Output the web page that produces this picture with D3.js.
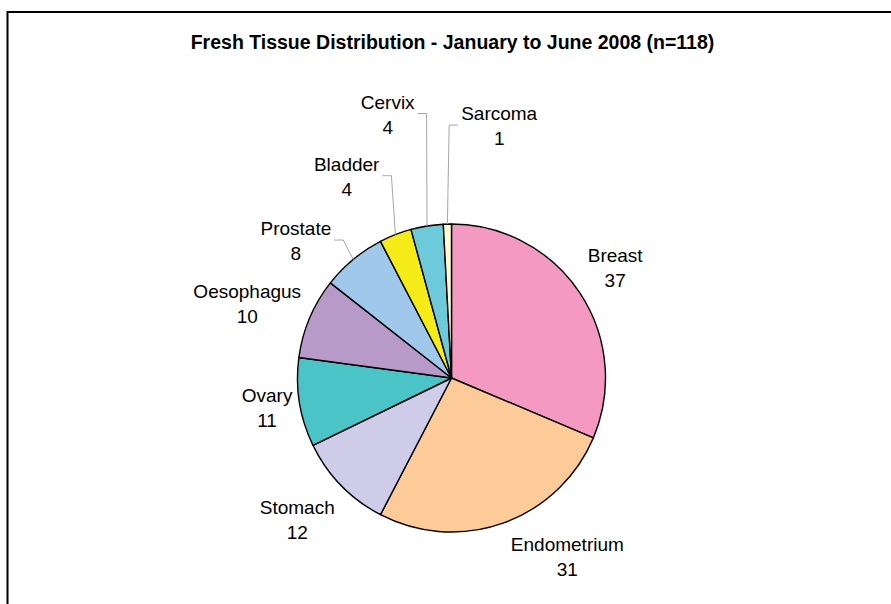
<!DOCTYPE html>
<html>
<head>
<meta charset="utf-8">
<script src="https://cdn.jsdelivr.net/npm/d3@7"></script>
<style>
  body { margin: 0; background: #fff; }
  svg { display: block; }
</style>
</head>
<body>
<div class="piechart"></div>
<script>
var categories = ["Breast", "Endometrium", "Stomach", "Ovary", "Oesophagus", "Prostate", "Bladder", "Cervix", "Sarcoma"];
var counts = [37, 31, 12, 11, 10, 8, 4, 4, 1];
var sliceColors = ["#F49AC2", "#FDCB98", "#CECCE8", "#4AC4C7", "#B89AC8", "#A0C8EA", "#F5EB19", "#6CCADB", "#FFFAD2"];
var chartTitle = "Fresh Tissue Distribution - January to June 2008 (n=118)";

// manual label moves (like excel's dragged labels), and which ones get a leader line
var labelNudge = [[-3, -5], [48, -15], [-11, -4], [13, -8], [-20, -2], [-28, 11], [-32, -21], [-32, -72], [53, -58]];
var hasLeader = [false, false, false, false, false, true, true, true, true];

var width = 891,
    height = 604;
var cx = 451.5, cy = 378,
    radius = 154,
    labelRadius = 200,
    lineGap = 25;

var svg = d3.select(".piechart").append("svg")
    .attr("width", width)
    .attr("height", height);

// chart frame, runs off the right and bottom edge
svg.append("rect")
    .attr("x", 7.5)
    .attr("y", 12)
    .attr("width", 1000)
    .attr("height", 1000)
    .attr("fill", "none")
    .attr("stroke", "#000")
    .attr("stroke-width", 2);

svg.append("text")
    .attr("x", 452.5)
    .attr("y", 48.5)
    .attr("text-anchor", "middle")
    .style("font-family", "'Liberation Sans', Arial, sans-serif")
    .style("font-size", "19.5px")
    .style("font-weight", "bold")
    .style("fill", "#000")
    .text(chartTitle);

var I = d3.range(categories.length);
var arcs = d3.pie().sort(null).value(i => counts[i])(I);
var arc = d3.arc().innerRadius(0).outerRadius(radius);
var arcLabel = d3.arc().innerRadius(labelRadius).outerRadius(labelRadius);
var arcEdge = d3.arc().innerRadius(radius).outerRadius(radius);

var g = svg.append("g")
    .attr("transform", `translate(${cx},${cy})`);

g.append("g")
    .attr("stroke", "#000")
    .attr("stroke-width", 1.4)
    .attr("stroke-linejoin", "round")
    .selectAll("path")
    .data(arcs).enter()
    .append("path")
    .attr("fill", d => sliceColors[d.data])
    .attr("d", arc);

var leaderG = g.append("g")
    .attr("fill", "none")
    .attr("stroke", "#a6a6a6")
    .attr("stroke-width", 1);

var labels = g.append("g")
    .style("font-family", "'Liberation Sans', Arial, sans-serif")
    .style("font-size", "19px")
    .style("fill", "#000")
    .attr("text-anchor", "middle")
    .selectAll("text")
    .data(arcs).enter()
    .append("text")
    .attr("transform", d => {
        var c = arcLabel.centroid(d);
        var n = labelNudge[d.index];
        return `translate(${c[0] + n[0]},${c[1] + n[1]})`;
    });

labels.append("tspan")
    .attr("x", 0)
    .attr("y", 0)
    .text(d => categories[d.data]);
labels.append("tspan")
    .attr("x", 0)
    .attr("y", lineGap)
    .text(d => counts[d.data]);

labels.each(function (d) {
    if (!hasLeader[d.index]) return;
    var c = arcLabel.centroid(d);
    var n = labelNudge[d.index];
    var lx = c[0] + n[0], ly = c[1] + n[1];
    var w = this.firstChild.getComputedTextLength();
    var p = arcEdge.centroid(d);
    var side = lx < p[0] ? 1 : -1;
    var x0 = lx + side * (w / 2 + 3),
        y0 = ly + 5;
    leaderG.append("polyline")
        .attr("points", [[x0, y0], [x0 + side * 9, y0], p].map(q => q.join(",")).join(" "));
});
</script>
</body>
</html>
